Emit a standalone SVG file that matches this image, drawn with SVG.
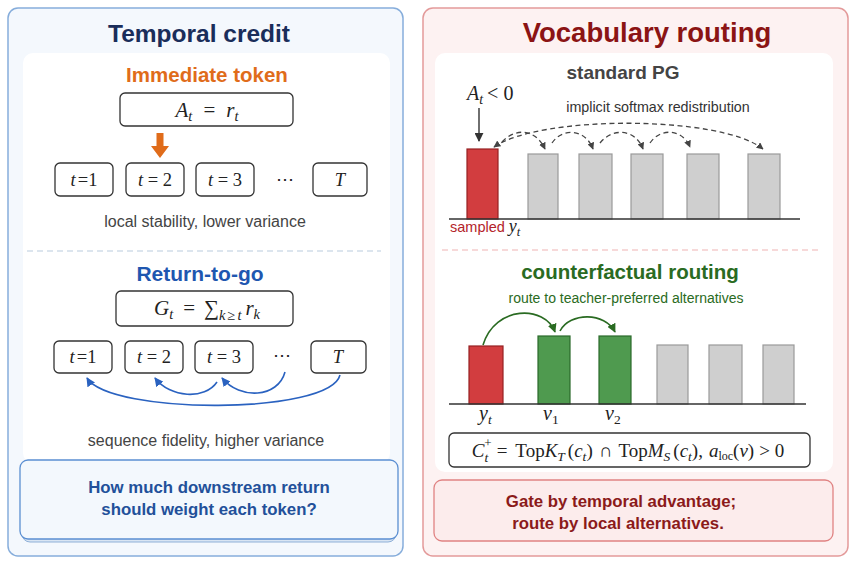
<svg xmlns="http://www.w3.org/2000/svg" width="855" height="564" viewBox="0 0 855 564">
<style>
.sans{font-family:"Liberation Sans",Arial,sans-serif}
.b{font-weight:bold}
.math{font-family:"Liberation Serif","DejaVu Serif",serif;fill:#222}
.it{font-style:italic}
.tok{fill:#fff;stroke:#333;stroke-width:1.3}
.gray{fill:#444}
.barr{fill:#d23d3f;stroke:#962022;stroke-width:1.2}
.barg{fill:#cfcfcf;stroke:#9a9a9a;stroke-width:1.2}
.barn{fill:#4f9a4f;stroke:#2b6a2b;stroke-width:1.2}
.dash{fill:none;stroke:#444;stroke-width:1.3;stroke-dasharray:5 3.5}
.blue{fill:none;stroke:#2a62c0;stroke-width:1.6}
.green{fill:none;stroke:#2a6b22;stroke-width:1.6}
</style>
<defs>
<marker id="mDark" viewBox="0 0 10 10" refX="9" refY="5" markerWidth="9" markerHeight="9" markerUnits="userSpaceOnUse" orient="auto"><path d="M0,0 L10,5 L0,10 z" fill="#333"/></marker>
<marker id="mDash" viewBox="0 0 10 10" refX="9" refY="5" markerWidth="7" markerHeight="7" markerUnits="userSpaceOnUse" orient="auto-start-reverse"><path d="M0,0 L10,5 L0,10 z" fill="#444"/></marker>
<marker id="mBlue" viewBox="0 0 10 10" refX="9" refY="5" markerWidth="9" markerHeight="9" markerUnits="userSpaceOnUse" orient="auto"><path d="M0,0 L10,5 L0,10 z" fill="#2a62c0"/></marker>
<marker id="mGreen" viewBox="0 0 10 10" refX="9" refY="5" markerWidth="9" markerHeight="9" markerUnits="userSpaceOnUse" orient="auto"><path d="M0,0 L10,5 L0,10 z" fill="#2a6b22"/></marker>
</defs>
<rect width="855" height="564" fill="#ffffff"/>

<g id="left-panel">
<rect x="8" y="8" width="395" height="548" rx="10" fill="#f4f8fd" stroke="#86addb" stroke-width="1.5"/>
<text x="199" y="42" text-anchor="middle" class="sans b" font-size="24.5" fill="#1a2d5a">Temporal credit</text>
<rect x="23" y="53" width="367" height="410" rx="10" fill="#ffffff"/>
</g>

<g id="immediate">
<text x="207" y="82" text-anchor="middle" class="sans b" font-size="20.5" fill="#e06c1a">Immediate token</text>
<g id="formula-A">
<rect x="120" y="93" width="173" height="33" rx="5" class="tok"/>
<text x="207" y="117" text-anchor="middle" class="math" font-size="21"><tspan class="it">A</tspan><tspan class="it" font-size="14.5" dy="4">t</tspan><tspan dy="-4" dx="11">=</tspan><tspan class="it" dx="11">r</tspan><tspan class="it" font-size="14.5" dy="4">t</tspan></text>
</g>
<polygon points="156.5,133 163.5,133 163.5,146 169,146 160,158 151,146 156.5,146" fill="#e06c1a"/>
<g id="row1">
<rect x="55" y="163" width="58" height="33" rx="5" class="tok"/>
<text x="84" y="186" text-anchor="middle" class="math" font-size="18.5"><tspan class="it">t</tspan><tspan dx="2">=1</tspan></text>
<rect x="126" y="163" width="58" height="33" rx="5" class="tok"/>
<text x="155" y="186" text-anchor="middle" class="math" font-size="18.5"><tspan class="it">t</tspan> = 2</text>
<rect x="196" y="163" width="58" height="33" rx="5" class="tok"/>
<text x="225" y="186" text-anchor="middle" class="math" font-size="18.5"><tspan class="it">t</tspan> = 3</text>
<text x="285" y="185" text-anchor="middle" class="math" font-size="18">⋯</text>
<rect x="313" y="163" width="54" height="33" rx="5" class="tok"/>
<text x="340" y="186" text-anchor="middle" class="math it" font-size="18.5">T</text>
</g>
<text x="205" y="227" text-anchor="middle" class="sans gray" font-size="16">local stability, lower variance</text>
</g>

<line x1="27" y1="251" x2="381" y2="251" stroke="#b9cbdd" stroke-width="1.2" stroke-dasharray="6 4"/>

<g id="return-to-go">
<text x="200" y="281" text-anchor="middle" class="sans b" font-size="21" fill="#1f57b0">Return-to-go</text>
<g id="formula-G">
<rect x="116" y="291" width="177" height="35" rx="5" class="tok"/>
<text x="207" y="315" text-anchor="middle" class="math" font-size="21"><tspan class="it">G</tspan><tspan class="it" font-size="14.5" dy="4">t</tspan><tspan dy="-4" dx="10">=</tspan><tspan dx="9">∑</tspan><tspan class="it" font-size="14.5" dy="5">k</tspan><tspan font-size="14.5" dx="2">≥</tspan><tspan class="it" font-size="14.5" dx="2">t</tspan><tspan class="it" dy="-5" dx="4">r</tspan><tspan class="it" font-size="14.5" dy="4">k</tspan></text>
</g>
<g id="row2">
<rect x="54" y="341" width="58" height="32" rx="5" class="tok"/>
<text x="83" y="363" text-anchor="middle" class="math" font-size="18.5"><tspan class="it">t</tspan><tspan dx="2">=1</tspan></text>
<rect x="125" y="341" width="58" height="32" rx="5" class="tok"/>
<text x="154" y="363" text-anchor="middle" class="math" font-size="18.5"><tspan class="it">t</tspan> = 2</text>
<rect x="195" y="341" width="58" height="32" rx="5" class="tok"/>
<text x="224" y="363" text-anchor="middle" class="math" font-size="18.5"><tspan class="it">t</tspan> = 3</text>
<text x="282" y="361" text-anchor="middle" class="math" font-size="18">⋯</text>
<rect x="311" y="341" width="55" height="32" rx="5" class="tok"/>
<text x="338" y="363" text-anchor="middle" class="math it" font-size="18.5">T</text>
</g>
<text x="206" y="446" text-anchor="middle" class="sans gray" font-size="16">sequence fidelity, higher variance</text>
</g>

<g id="left-question">
<rect x="22" y="463" width="374" height="79" rx="8" fill="#d9e5f3" stroke="#8fb0d8" stroke-width="1"/>
<rect x="20" y="460" width="378" height="79" rx="8" fill="#f3f8fd" stroke="#5b8fd2" stroke-width="1.3"/>
<text x="209" y="493" text-anchor="middle" class="sans b" font-size="16.8" fill="#22509a">How much downstream return</text>
<text x="209" y="515" text-anchor="middle" class="sans b" font-size="16.8" fill="#22509a">should weight each token?</text>
</g>

<g id="right-panel">
<rect x="423" y="8" width="425" height="548" rx="10" fill="#fdf2f2" stroke="#e39a9a" stroke-width="1.5"/>
<text x="647" y="42" text-anchor="middle" class="sans b" font-size="27.5" fill="#8b1414">Vocabulary routing</text>
<rect x="435" y="53" width="398" height="419" rx="10" fill="#ffffff"/>
</g>

<g id="standard-pg">
<text x="623" y="79" text-anchor="middle" class="sans b gray" font-size="19">standard PG</text>
<text x="467" y="100" class="math" font-size="20"><tspan class="it">A</tspan><tspan class="it" font-size="14" dy="4">t</tspan><tspan dy="-4" dx="4">&lt; 0</tspan></text>
<text x="658" y="112" text-anchor="middle" class="sans" font-size="14.3" fill="#333">implicit softmax redistribution</text>
<rect x="467" y="149" width="31" height="70" class="barr"/>
<rect x="528" y="154" width="30" height="65" class="barg"/>
<rect x="579" y="154" width="33" height="65" class="barg"/>
<rect x="631" y="154" width="32" height="65" class="barg"/>
<rect x="687" y="154" width="32" height="65" class="barg"/>
<rect x="748" y="154" width="32" height="65" class="barg"/>
<line x1="449" y1="219" x2="800" y2="219" stroke="#333" stroke-width="1.6"/>
<text x="450" y="232" class="sans" font-size="14.5" fill="#b3232a">sampled <tspan class="math it" fill="#b3232a" font-size="18">y</tspan><tspan class="math it" fill="#b3232a" font-size="12.5" dy="4">t</tspan></text>
</g>

<line x1="442" y1="250" x2="820" y2="250" stroke="#f0b4b4" stroke-width="1.2" stroke-dasharray="6 4"/>

<g id="counterfactual">
<text x="630" y="279" text-anchor="middle" class="sans b" font-size="20.5" fill="#2a6b22">counterfactual routing</text>
<text x="626" y="303" text-anchor="middle" class="sans" font-size="14" fill="#2a6b22">route to teacher-preferred alternatives</text>
<rect x="469" y="346" width="34" height="58" class="barr"/>
<rect x="538" y="336" width="32" height="68" class="barn"/>
<rect x="599" y="336" width="32" height="68" class="barn"/>
<rect x="657" y="345" width="31" height="59" class="barg"/>
<rect x="709" y="345" width="33" height="59" class="barg"/>
<rect x="763" y="345" width="31" height="59" class="barg"/>
<line x1="449" y1="404" x2="806" y2="404" stroke="#333" stroke-width="1.6"/>
<text x="479" y="420" class="math it" font-size="20" fill="#c0282c">y<tspan font-size="13.5" dy="4">t</tspan></text>
<text x="543" y="420" class="math it" font-size="20" fill="#2a6b22">v<tspan font-size="13.5" dy="4" font-style="normal">1</tspan></text>
<text x="605" y="420" class="math it" font-size="20" fill="#2a6b22">v<tspan font-size="13.5" dy="4" font-style="normal">2</tspan></text>
<g id="formula-C">
<rect x="449" y="433" width="361" height="34" rx="5" class="tok"/>
<text x="628" y="457" text-anchor="middle" class="math" font-size="19"><tspan class="it">C</tspan><tspan class="it" font-size="13.5" dy="5">t</tspan><tspan font-size="13" dy="-15" dx="-4">+</tspan><tspan dy="10" dx="5">=</tspan><tspan dx="8">Top</tspan><tspan class="it">K</tspan><tspan class="it" font-size="13.5" dy="4">T</tspan><tspan dy="-4" dx="3">(</tspan><tspan class="it">c</tspan><tspan class="it" font-size="13.5" dy="4">t</tspan><tspan dy="-4">)</tspan><tspan dx="6">∩</tspan><tspan dx="6">Top</tspan><tspan class="it">M</tspan><tspan class="it" font-size="13.5" dy="4">S</tspan><tspan dy="-4" dx="3">(</tspan><tspan class="it">c</tspan><tspan class="it" font-size="13.5" dy="4">t</tspan><tspan dy="-4">),</tspan><tspan class="it" dx="6">a</tspan><tspan font-size="12" dy="3">loc</tspan><tspan dy="-3">(</tspan><tspan class="it">v</tspan><tspan>)</tspan><tspan dx="5">&gt; 0</tspan></text>
</g>
</g>

<g id="right-gate">
<rect x="434" y="480" width="399" height="61" rx="8" fill="#fcecec" stroke="#e08383" stroke-width="1.3"/>
<text x="621" y="507" text-anchor="middle" class="sans b" font-size="16.8" fill="#8b1a1a">Gate by temporal advantage;</text>
<text x="618" y="529" text-anchor="middle" class="sans b" font-size="16.8" fill="#8b1a1a">route by local alternatives.</text>
</g>

<g id="connectors">
<path class="blue" d="M340,375 C330,415 110,415 87,378" marker-end="url(#mBlue)"/>
<path class="blue" d="M285,372 C278,398 240,400 222,378" marker-end="url(#mBlue)"/>
<path class="blue" d="M217,382 C205,400 170,398 155,378" marker-end="url(#mBlue)"/>
<line x1="479" y1="108" x2="479" y2="141" stroke="#333" stroke-width="1.4" marker-end="url(#mDark)"/>
<path class="dash" d="M494,147 C540,115 720,115 763,149" marker-start="url(#mDash)" marker-end="url(#mDash)"/>
<path class="dash" d="M502,142 C515,128 535,128 545,149" marker-end="url(#mDash)"/>
<path class="dash" d="M552,143 C562,128 585,128 593,149" marker-end="url(#mDash)"/>
<path class="dash" d="M600,143 C612,128 635,128 643,149" marker-end="url(#mDash)"/>
<path class="dash" d="M650,143 C660,128 682,128 690,147" marker-end="url(#mDash)"/>
<path class="green" d="M483,345 C495,305 545,305 555,332" marker-end="url(#mGreen)"/>
<path class="green" d="M560,331 C570,312 605,312 615,332" marker-end="url(#mGreen)"/>
</g>
</svg>
